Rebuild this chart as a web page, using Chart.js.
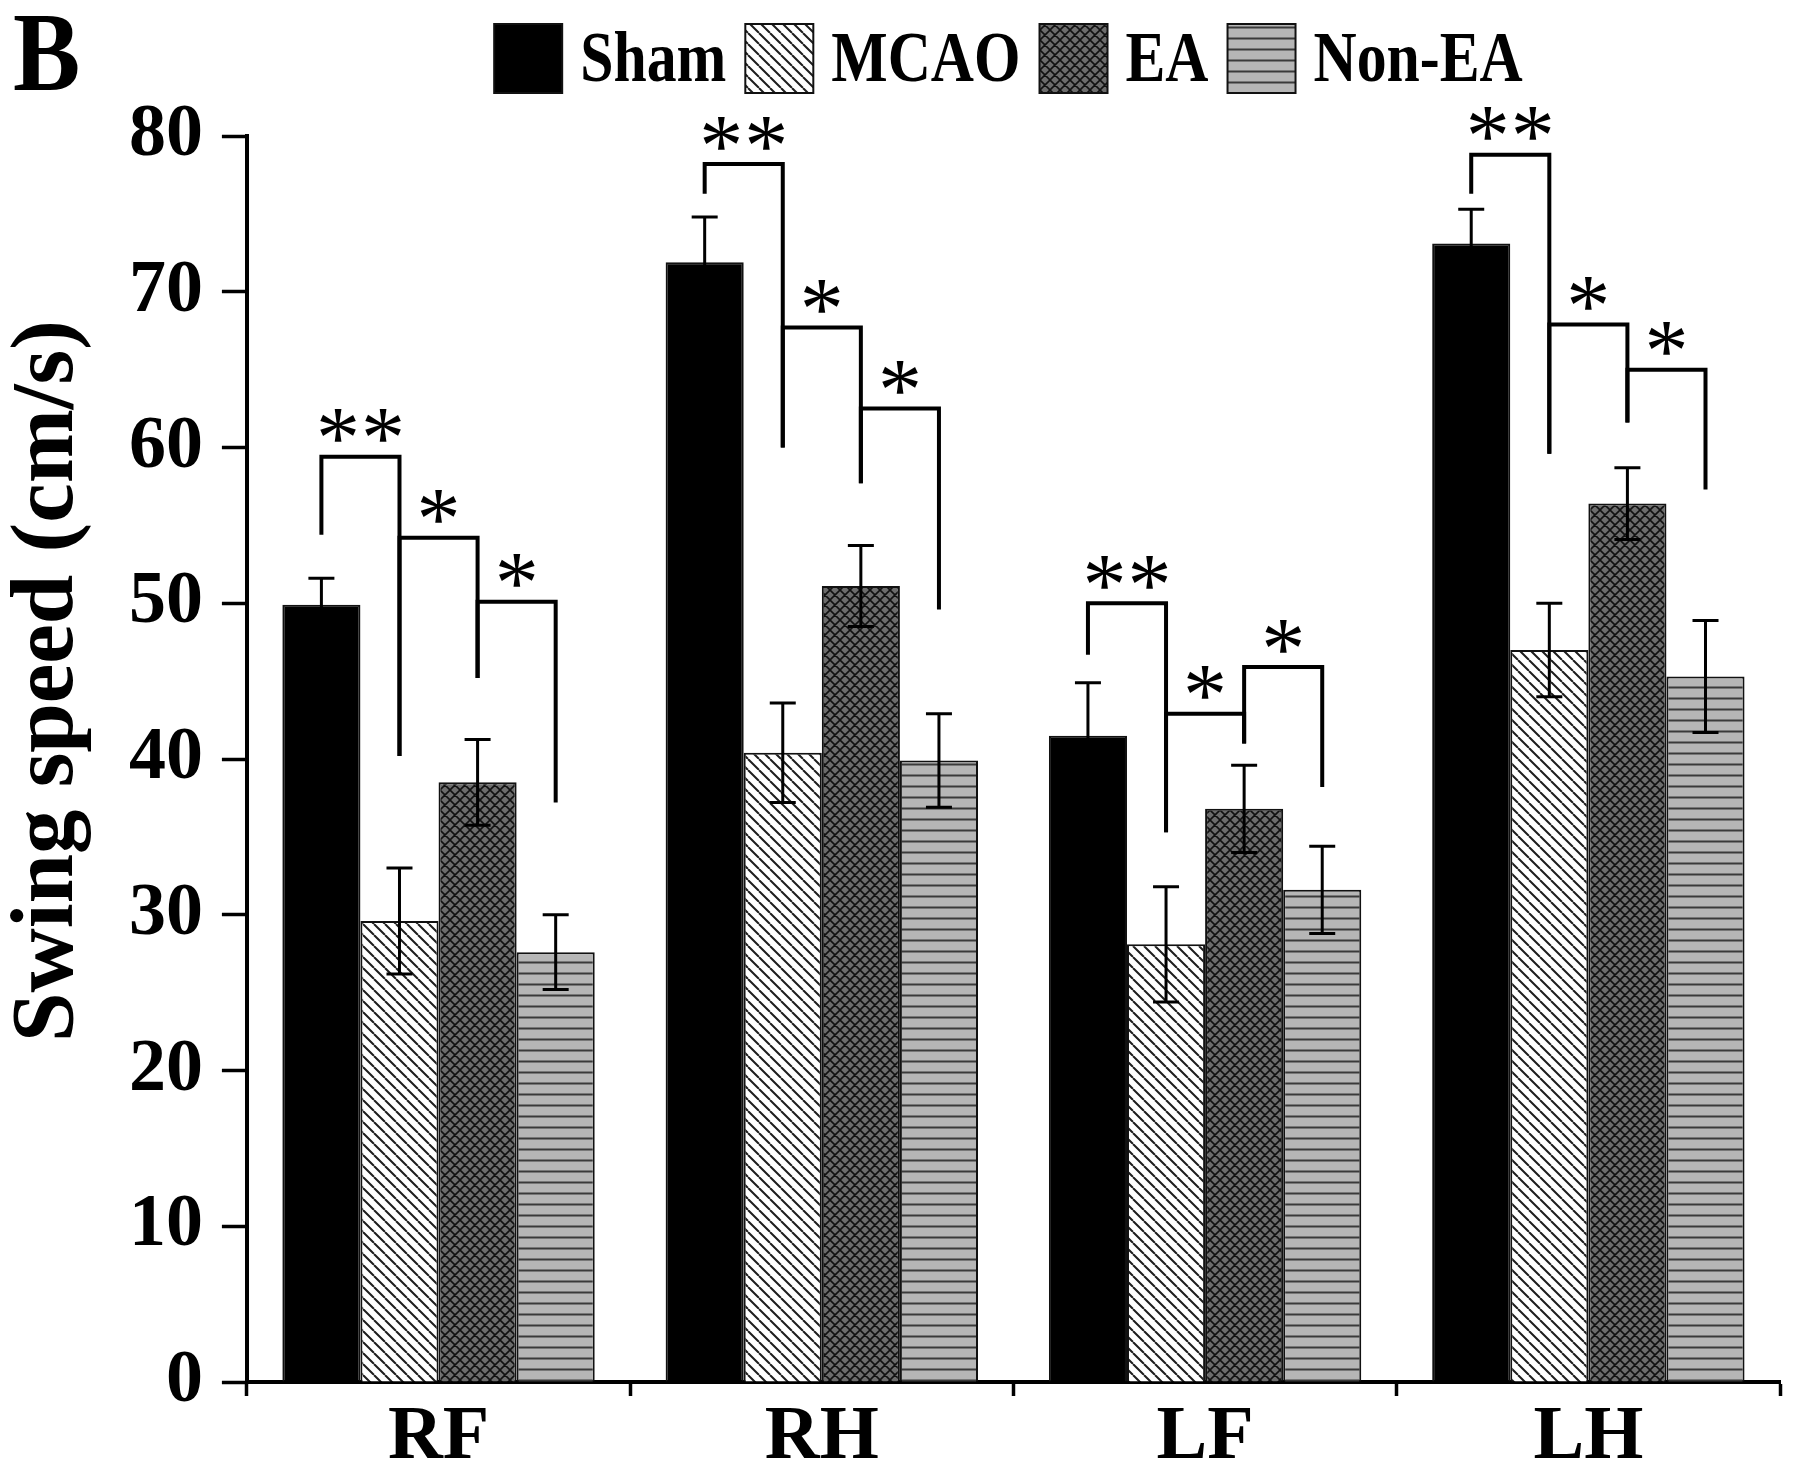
<!DOCTYPE html>
<html>
<head>
<meta charset="utf-8">
<title>Swing speed</title>
<script src="https://cdn.jsdelivr.net/npm/chart.js@4.4.1/dist/chart.umd.min.js"></script>
<style>
  html, body { margin: 0; padding: 0; background: #fff; }
  canvas { display: block; }
</style>
</head>
<body>
<canvas id="swingChart" width="1795" height="1480"></canvas>
<script>
// values (cm/s)
const categories = ['RF', 'RH', 'LF', 'LH'];
const groupNames = ['Sham', 'MCAO', 'EA', 'Non-EA'];

const shamValues  = [49.9, 71.9, 41.5, 73.1];
const mcaoValues  = [29.6, 40.4, 28.1, 47.0];
const eaValues    = [38.5, 51.1, 36.8, 56.4];
const nonEaValues = [27.6, 39.9, 31.6, 45.3];

const shamErrors  = [1.7, 2.9, 3.4, 2.2];
const mcaoErrors  = [3.4, 3.2, 3.7, 3.0];
const eaErrors    = [2.75, 2.6, 2.8, 2.3];
const nonEaErrors = [2.4, 3.0, 2.8, 3.6];

const yTicks = [0, 10, 20, 30, 40, 50, 60, 70, 80];

// significance brackets: category, from bar, to bar, top, left leg end, right leg end, label
const sigBrackets = [
    ['RF', 0, 1, 59.4, 54.4, 40.2, '**'],
    ['RF', 1, 2, 54.2, 40.2, 45.2, '*'],
    ['RF', 2, 3, 50.1, 45.2, 37.2, '*'],
    ['RH', 0, 1, 78.2, 76.3, 60.0, '**'],
    ['RH', 1, 2, 67.7, 60.0, 57.7, '*'],
    ['RH', 2, 3, 62.5, 57.7, 49.6, '*'],
    ['LF', 0, 1, 50.0, 46.7, 35.3, '**'],
    ['LF', 1, 2, 42.9, 35.3, 41.0, '*'],
    ['LF', 2, 3, 45.9, 41.0, 38.2, '*'],
    ['LH', 0, 1, 78.8, 76.3, 59.6, '**'],
    ['LH', 1, 2, 67.9, 59.6, 61.6, '*'],
    ['LH', 2, 3, 65.0, 61.6, 57.3, '*']
];

const SERIF = '"Liberation Serif", "Times New Roman", serif';

const canvas = document.getElementById('swingChart');
const ctx = canvas.getContext('2d');

// build a repeating hatch fill
function makePattern(bg, size, lineColor, lineWidth, drawLines) {
    const tile = document.createElement('canvas');
    tile.width = size;
    tile.height = size;
    const p = tile.getContext('2d');
    p.fillStyle = bg;
    p.fillRect(0, 0, size, size);
    p.strokeStyle = lineColor;
    p.lineWidth = lineWidth;
    p.beginPath();
    drawLines(p, size);
    p.stroke();
    return ctx.createPattern(tile, 'repeat');
}

const backSlash = (p, s) => {
    [-s, 0, s].forEach(k => { p.moveTo(k, 0); p.lineTo(k + s, s); });
};
const forwardSlash = (p, s) => {
    [-s, 0, s].forEach(k => { p.moveTo(k + s, 0); p.lineTo(k, s); });
};

const mcaoFill = makePattern('#ffffff', 11, '#1e1e1e', 2, backSlash);
const eaFill = makePattern('#6c6c6c', 10, '#111111', 1.6, (p, s) => { backSlash(p, s); forwardSlash(p, s); });
const nonEaFill = makePattern('#b6b6b6', 11, '#3a3a3a', 2, (p, s) => { p.moveTo(0, s / 2); p.lineTo(s, s / 2); });

const errorSets = [shamErrors, mcaoErrors, eaErrors, nonEaErrors];

// error bars, brackets and stars
const annotations = {
    id: 'annotations',
    afterDatasetsDraw(chart) {
        const c = chart.ctx;
        const yScale = chart.scales.y;
        c.save();
        c.strokeStyle = '#000';

        // error bars
        c.lineWidth = 3;
        chart.data.datasets.forEach((ds, d) => {
            const meta = chart.getDatasetMeta(d);
            meta.data.forEach((bar, i) => {
                const v = ds.data[i];
                const e = errorSets[d][i];
                const yHi = yScale.getPixelForValue(v + e);
                const yLo = yScale.getPixelForValue(v - e);
                c.beginPath();
                c.moveTo(bar.x, yHi); c.lineTo(bar.x, yLo);
                c.moveTo(bar.x - 13, yHi); c.lineTo(bar.x + 13, yHi);
                c.moveTo(bar.x - 13, yLo); c.lineTo(bar.x + 13, yLo);
                c.stroke();
            });
        });

        // brackets
        c.lineWidth = 4;
        c.lineCap = 'butt';
        c.lineJoin = 'miter';
        sigBrackets.forEach(([cat, a, b, top, leftEnd, rightEnd, label]) => {
            const i = categories.indexOf(cat);
            const xa = chart.getDatasetMeta(a).data[i].x;
            const xb = chart.getDatasetMeta(b).data[i].x;
            const yt = yScale.getPixelForValue(top);
            c.beginPath();
            c.moveTo(xa, yScale.getPixelForValue(leftEnd));
            c.lineTo(xa, yt);
            c.lineTo(xb, yt);
            c.lineTo(xb, yScale.getPixelForValue(rightEnd));
            c.stroke();

            const cx = (xa + xb) / 2;
            const cy = yt - 31;
            if (label === '**') {
                drawStar(c, cx - 22.5, cy);
                drawStar(c, cx + 22.5, cy);
            } else {
                drawStar(c, cx, cy);
            }
        });
        c.restore();
    }
};

function drawStar(c, cx, cy) {
    c.font = '88px ' + SERIF;
    c.fillStyle = '#000';
    c.textAlign = 'left';
    c.textBaseline = 'alphabetic';
    const m = c.measureText('*');
    const x = cx - (m.actualBoundingBoxRight - m.actualBoundingBoxLeft) / 2;
    const y = cy + (m.actualBoundingBoxAscent - m.actualBoundingBoxDescent) / 2;
    c.fillText('*', x, y);
}

// legend row with the hatch boxes, plus the panel letter
const headerLegend = {
    id: 'headerLegend',
    afterDraw(chart) {
        const c = chart.ctx;
        const area = chart.chartArea;
        const squeeze = 0.83;
        const boxW = 68, boxH = 69, textGap = 18, itemGap = 19, top = 24;
        c.save();
        c.font = 'bold 72px ' + SERIF;
        c.textBaseline = 'alphabetic';
        c.textAlign = 'left';
        const widths = chart.data.datasets.map(ds => c.measureText(ds.label).width * squeeze);
        const total = widths.reduce((s, w) => s + boxW + textGap + w, 0) + itemGap * (widths.length - 1);
        let x = (area.left + area.right) / 2 - total / 2 - 5;
        chart.data.datasets.forEach((ds, i) => {
            c.fillStyle = ds.backgroundColor;
            c.fillRect(x, top, boxW, boxH);
            c.lineWidth = 2;
            c.strokeStyle = '#111';
            c.strokeRect(x, top, boxW, boxH);
            x += boxW + textGap;
            c.save();
            c.translate(x, top + 57);
            c.scale(squeeze, 1);
            c.fillStyle = '#000';
            c.fillText(ds.label, 0, 0);
            c.restore();
            x += widths[i] + itemGap;
        });

        // panel letter
        c.save();
        c.translate(13, 90);
        c.scale(0.9, 1);
        c.font = 'bold 112px ' + SERIF;
        c.fillStyle = '#000';
        c.fillText('B', 0, 0);
        c.restore();
        c.restore();
    }
};

const fills = ['#000000', mcaoFill, eaFill, nonEaFill];
const seriesValues = [shamValues, mcaoValues, eaValues, nonEaValues];

new Chart(ctx, {
    type: 'bar',
    data: {
        labels: categories,
        datasets: groupNames.map((name, d) => ({
            label: name,
            data: seriesValues[d],
            backgroundColor: fills[d],
            borderColor: '#111111',
            borderWidth: 2,
            barPercentage: 1.0,
            categoryPercentage: 0.815
        }))
    },
    options: {
        responsive: false,
        animation: false,
        devicePixelRatio: 1,
        events: [],
        layout: {
            padding: { top: 136, right: 15, bottom: 0, left: 0 }
        },
        plugins: {
            legend: { display: false },
            tooltip: { enabled: false }
        },
        scales: {
            x: {
                grid: {
                    offset: true,
                    drawOnChartArea: false,
                    tickLength: 14,
                    tickWidth: 3.5,
                    color: '#000',
                    tickColor: '#000'
                },
                border: { display: true, color: '#000', width: 4 },
                ticks: {
                    color: '#000',
                    padding: 4,
                    font: { family: SERIF, size: 76, weight: 'bold', lineHeight: 1.0 }
                }
            },
            y: {
                min: 0,
                max: 80,
                afterBuildTicks: axis => { axis.ticks = yTicks.map(v => ({ value: v })); },
                grid: {
                    drawOnChartArea: false,
                    tickLength: 25,
                    tickWidth: 3.5,
                    color: '#000',
                    tickColor: '#000'
                },
                border: { display: true, color: '#000', width: 4 },
                ticks: {
                    color: '#000',
                    padding: 19,
                    font: { family: SERIF, size: 74, weight: 'bold' }
                },
                title: {
                    display: true,
                    // leading spaces lift the label above the axis middle, as in the figure
                    text: '       Swing speed (cm/s)',
                    color: '#000',
                    padding: { top: 0, bottom: 12 },
                    font: { family: SERIF, size: 89, weight: 'bold', lineHeight: 1.1 }
                }
            }
        }
    },
    plugins: [annotations, headerLegend]
});
</script>
</body>
</html>
